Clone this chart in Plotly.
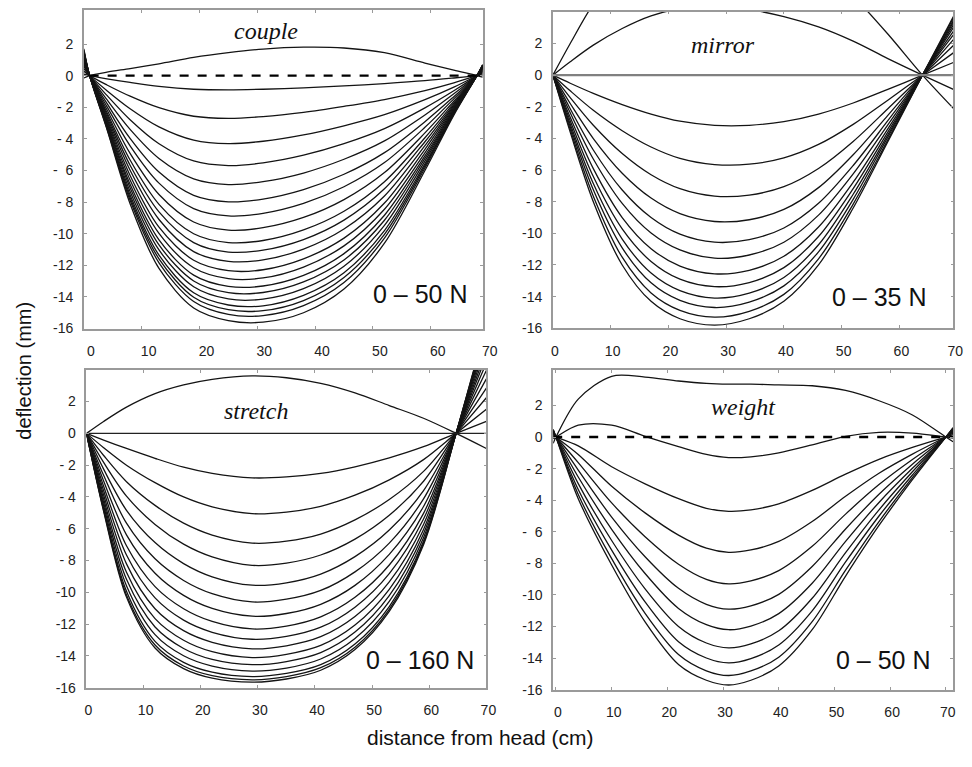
import plotly.graph_objects as go

# ---------------- couple (top-left) ----------------
COUPLE_X = [0, 1, 4, 8, 13, 19, 25, 31, 38, 45, 52, 59, 64, 68, 69]
COUPLE_UP = [-0.15, 0, 0.22, 0.45, 0.75, 1.15, 1.45, 1.68, 1.8, 1.75, 1.45, 0.8, 0.35, 0, -0.1]
COUPLE_DOWN = [
    [0.09, 0, -0.2, -0.43, -0.68, -0.86, -0.9, -0.86, -0.77, -0.65, -0.5, -0.32, -0.15, 0, 0.04],
    [0.28, 0, -0.59, -1.3, -2.03, -2.57, -2.7, -2.59, -2.32, -1.94, -1.51, -0.95, -0.46, 0, 0.12],
    [0.45, 0, -0.95, -2.09, -3.24, -4.08, -4.3, -4.15, -3.75, -3.17, -2.47, -1.52, -0.73, 0, 0.19],
    [0.6, 0, -1.25, -2.79, -4.31, -5.4, -5.69, -5.52, -5.03, -4.3, -3.35, -2.04, -0.96, 0, 0.26],
    [0.72, 0, -1.52, -3.4, -5.24, -6.53, -6.89, -6.71, -6.16, -5.29, -4.13, -2.49, -1.15, 0, 0.31],
    [0.84, 0, -1.76, -3.97, -6.1, -7.57, -7.98, -7.81, -7.21, -6.24, -4.87, -2.91, -1.33, 0, 0.36],
    [0.93, 0, -1.96, -4.44, -6.8, -8.41, -8.87, -8.71, -8.08, -7.03, -5.5, -3.27, -1.47, 0, 0.4],
    [1.03, 0, -2.16, -4.92, -7.52, -9.26, -9.77, -9.62, -8.97, -7.84, -6.13, -3.62, -1.62, 0, 0.44],
    [1.11, 0, -2.33, -5.34, -8.14, -10.0, -10.56, -10.43, -9.76, -8.58, -6.71, -3.93, -1.74, 0, 0.48],
    [1.18, 0, -2.46, -5.67, -8.62, -10.56, -11.16, -11.04, -10.37, -9.14, -7.16, -4.18, -1.83, 0, 0.5],
    [1.24, 0, -2.6, -5.99, -9.1, -11.13, -11.75, -11.66, -10.97, -9.7, -7.61, -4.43, -1.92, 0, 0.53],
    [1.3, 0, -2.73, -6.32, -9.59, -11.68, -12.34, -12.28, -11.59, -10.28, -8.06, -4.66, -2.01, 0, 0.56],
    [1.35, 0, -2.84, -6.6, -9.98, -12.15, -12.84, -12.8, -12.11, -10.77, -8.45, -4.88, -2.09, 0, 0.58],
    [1.41, 0, -2.95, -6.87, -10.39, -12.62, -13.33, -13.31, -12.64, -11.26, -8.83, -5.08, -2.17, 0, 0.6],
    [1.45, 0, -3.04, -7.09, -10.71, -12.99, -13.73, -13.72, -13.05, -11.66, -9.15, -5.24, -2.22, 0, 0.62],
    [1.49, 0, -3.12, -7.33, -11.03, -13.36, -14.13, -14.14, -13.48, -12.06, -9.47, -5.41, -2.29, 0, 0.64],
    [1.53, 0, -3.21, -7.55, -11.36, -13.74, -14.51, -14.56, -13.9, -12.47, -9.8, -5.58, -2.35, 0, 0.66],
    [1.56, 0, -3.28, -7.72, -11.59, -14.02, -14.81, -14.87, -14.23, -12.77, -10.04, -5.71, -2.38, 0, 0.67],
    [1.6, 0, -3.34, -7.89, -11.84, -14.29, -15.11, -15.18, -14.55, -13.09, -10.28, -5.84, -2.43, 0, 0.68],
    [1.7, 0, -3.4, -8.1, -12.2, -14.7, -15.5, -15.6, -15.0, -13.5, -10.6, -6.0, -2.5, 0, 0.7],
]
COUPLE_ZERO_X = [1, 69]

# ---------------- mirror (top-right) ----------------
MIRROR_X = [0, 3, 7, 12, 17, 22, 28, 34, 40, 46, 52, 58, 64, 69.35]
MIRROR_UP = [
    [0, 0.85, 1.9, 2.95, 3.75, 4.2, 4.35, 4.15, 3.7, 3.05, 2.15, 1.05, 0, -0.9],
    [0, 2.0, 4.5, 6.8, 8.2, 8.8, 9.0, 8.8, 8.2, 7.0, 5.0, 2.6, 0, -2.1],
]
MIRROR_DOWN = [
    [0, -0.51, -1.15, -1.86, -2.46, -2.91, -3.17, -3.17, -2.94, -2.46, -1.76, -0.9, 0, 0.8],
    [0, -0.99, -2.22, -3.51, -4.54, -5.26, -5.65, -5.63, -5.23, -4.38, -3.11, -1.58, 0, 1.41],
    [0, -1.42, -3.17, -4.96, -6.3, -7.18, -7.65, -7.58, -7.05, -5.9, -4.19, -2.12, 0, 1.88],
    [0, -1.79, -4.01, -6.2, -7.77, -8.75, -9.25, -9.14, -8.49, -7.11, -5.03, -2.54, 0, 2.25],
    [0, -2.12, -4.73, -7.26, -9.0, -10.05, -10.56, -10.4, -9.66, -8.1, -5.71, -2.88, 0, 2.55],
    [0, -2.38, -5.3, -8.11, -9.98, -11.05, -11.57, -11.37, -10.56, -8.85, -6.24, -3.14, 0, 2.77],
    [0, -2.66, -5.91, -9.0, -10.97, -12.07, -12.56, -12.34, -11.45, -9.6, -6.77, -3.4, 0, 3.0],
    [0, -2.88, -6.41, -9.72, -11.78, -12.9, -13.37, -13.11, -12.17, -10.2, -7.17, -3.6, 0, 3.18],
    [0, -3.09, -6.85, -10.36, -12.51, -13.62, -14.09, -13.78, -12.79, -10.72, -7.53, -3.78, 0, 3.33],
    [0, -3.26, -7.25, -10.92, -13.13, -14.24, -14.69, -14.35, -13.32, -11.17, -7.85, -3.92, 0, 3.45],
    [0, -3.44, -7.65, -11.51, -13.77, -14.87, -15.3, -14.93, -13.86, -11.61, -8.15, -4.09, 0, 3.6],
    [0, -3.6, -8.0, -12.0, -14.3, -15.4, -15.8, -15.4, -14.3, -12.0, -8.4, -4.2, 0, 3.7],
]
MIRROR_ZERO_X = [0, 69.35]

# ---------------- stretch (bottom-left) ----------------
STRETCH_X = [0, 3, 7, 12, 17, 22, 29, 35, 41, 47, 53, 59, 64.7, 70]
STRETCH_UP = [0, 0.75, 1.65, 2.5, 3.05, 3.4, 3.62, 3.5, 3.15, 2.55, 1.75, 0.95, 0, -0.95]
STRETCH_DOWN = [
    [0, -0.42, -0.95, -1.57, -2.13, -2.52, -2.8, -2.74, -2.52, -2.1, -1.54, -0.84, 0, 0.76],
    [0, -0.9, -2.0, -3.1, -4.0, -4.62, -5.05, -4.95, -4.59, -3.89, -2.92, -1.65, 0, 1.52],
    [0, -1.39, -3.04, -4.53, -5.65, -6.4, -6.9, -6.78, -6.33, -5.44, -4.16, -2.39, 0, 2.24],
    [0, -1.83, -3.95, -5.73, -6.97, -7.77, -8.3, -8.16, -7.65, -6.65, -5.15, -3.01, 0, 2.85],
    [0, -2.25, -4.84, -6.87, -8.19, -9.02, -9.55, -9.4, -8.85, -7.75, -6.08, -3.6, 0, 3.43],
    [0, -2.64, -5.65, -7.89, -9.25, -10.08, -10.6, -10.43, -9.88, -8.71, -6.9, -4.12, 0, 3.95],
    [0, -2.99, -6.38, -8.8, -10.19, -11.01, -11.5, -11.33, -10.75, -9.56, -7.61, -4.6, 0, 4.43],
    [0, -3.32, -7.07, -9.64, -11.03, -11.83, -12.3, -12.12, -11.54, -10.31, -8.28, -5.03, 0, 4.87],
    [0, -3.61, -7.65, -10.35, -11.75, -12.51, -12.95, -12.77, -12.19, -10.93, -8.82, -5.39, 0, 5.23],
    [0, -3.88, -8.21, -11.03, -12.41, -13.14, -13.55, -13.36, -12.79, -11.52, -9.34, -5.73, 0, 5.58],
    [0, -4.13, -8.74, -11.65, -13.01, -13.73, -14.1, -13.9, -13.34, -12.06, -9.81, -6.05, 0, 5.91],
    [0, -4.35, -9.18, -12.18, -13.53, -14.22, -14.55, -14.35, -13.79, -12.5, -10.21, -6.31, 0, 6.18],
    [0, -4.54, -9.58, -12.66, -13.99, -14.64, -14.95, -14.76, -14.19, -12.9, -10.57, -6.56, 0, 6.44],
    [0, -4.73, -9.93, -13.08, -14.4, -15.02, -15.3, -15.1, -14.55, -13.25, -10.89, -6.78, 0, 6.66],
    [0, -4.83, -10.16, -13.31, -14.63, -15.24, -15.5, -15.3, -14.74, -13.45, -11.07, -6.9, 0, 6.8],
    [0, -4.9, -10.3, -13.5, -14.8, -15.4, -15.65, -15.45, -14.9, -13.6, -11.2, -7.0, 0, 6.9],
]
STRETCH_ZERO_X = [0, 70]

# ---------------- weight (bottom-right) ----------------
WEIGHT_X = [-0.5, 0, 4, 10, 16, 22, 27, 31, 35, 40, 46, 52, 58, 64, 70, 71.3]
WEIGHT_UP = [
    [-0.4, 0, 2.4, 3.85, 3.8, 3.55, 3.4, 3.35, 3.35, 3.3, 3.25, 2.95, 2.3, 1.4, 0, -0.3],
    [-0.1, 0, 0.75, 0.75, 0.05, -0.6, -1.1, -1.3, -1.25, -1.0, -0.5, 0.05, 0.3, 0.25, 0, -0.05],
]
WEIGHT_DOWN = [
    [0.07, 0, -0.56, -1.88, -2.96, -3.9, -4.51, -4.7, -4.61, -4.23, -3.38, -2.35, -1.41, -0.66, 0, 0.15],
    [0.14, 0, -1.1, -3.12, -4.8, -6.21, -7.04, -7.3, -7.15, -6.61, -5.35, -3.75, -2.29, -1.08, 0, 0.24],
    [0.2, 0, -1.62, -4.17, -6.31, -8.05, -9.01, -9.3, -9.11, -8.46, -6.92, -4.88, -3.01, -1.42, 0, 0.31],
    [0.26, 0, -2.09, -5.07, -7.58, -9.58, -10.59, -10.9, -10.69, -9.96, -8.2, -5.82, -3.62, -1.72, 0, 0.38],
    [0.32, 0, -2.53, -5.84, -8.64, -10.85, -11.88, -12.2, -11.97, -11.18, -9.26, -6.61, -4.14, -1.98, 0, 0.44],
    [0.37, 0, -2.95, -6.55, -9.61, -11.99, -13.04, -13.35, -13.1, -12.27, -10.21, -7.32, -4.61, -2.2, 0, 0.48],
    [0.42, 0, -3.32, -7.16, -10.44, -12.96, -13.99, -14.3, -14.03, -13.17, -11.01, -7.91, -5.0, -2.4, 0, 0.53],
    [0.46, 0, -3.64, -7.7, -11.16, -13.77, -14.8, -15.1, -14.81, -13.94, -11.69, -8.43, -5.35, -2.57, 0, 0.57],
    [0.49, 0, -3.9, -8.1, -11.7, -14.4, -15.4, -15.7, -15.4, -14.5, -12.2, -8.8, -5.6, -2.7, 0, 0.6],
]
WEIGHT_ZERO_X = [-0.5, 71.3]

PANEL_NAMES = ["couple", "mirror", "stretch", "weight"]
FORCE_LABELS = ["0 \u2013 50 N", "0 \u2013 35 N", "0 \u2013 160 N", "0 \u2013 50 N"]
Y_TICKS = [2, 0, -2, -4, -6, -8, -10, -12, -14, -16]
Y_TICKTEXT = ["2", "0", "- 2", "- 4", "-  6", "- 8", "-10", "-12", "-14", "-16"]
X_TICKS = [0, 10, 20, 30, 40, 50, 60, 70]
X_TICKTEXT = ["0", "10", "20", "30", "40", "50", "60", "70"]

W, H = 972, 767
LINE = dict(color="#141414", width=1.3, shape="spline", smoothing=0.9)

fig = go.Figure()


def add_curves(xs, ys_list, ax):
    for ys in ys_list:
        fig.add_trace(go.Scatter(x=xs, y=ys, mode="lines", line=LINE,
                                 xaxis="x" + ax, yaxis="y" + ax,
                                 showlegend=False, hoverinfo="skip"))


def add_zero(xs, ax, dashed, color="#000", width=2.2):
    fig.add_trace(go.Scatter(x=xs, y=[0] * len(xs), mode="lines",
                             line=dict(color=color, width=width,
                                       dash="dash" if dashed else "solid"),
                             xaxis="x" + ax, yaxis="y" + ax,
                             showlegend=False, hoverinfo="skip"))


# couple
add_curves(COUPLE_X, [COUPLE_UP] + COUPLE_DOWN, "")
add_zero(COUPLE_ZERO_X, "", True, width=2.4)
# mirror
add_curves(MIRROR_X, MIRROR_UP + MIRROR_DOWN, "2")
add_zero(MIRROR_ZERO_X, "2", False, color="#808080", width=2.2)
# stretch
add_curves(STRETCH_X, [STRETCH_UP] + STRETCH_DOWN, "3")
add_zero(STRETCH_ZERO_X, "3", False, color="#222", width=1.3)
# weight
add_curves(WEIGHT_X, WEIGHT_UP + WEIGHT_DOWN, "4")
add_zero(WEIGHT_ZERO_X, "4", True, width=2.4)

# panel boxes in pixels: (left, right, top, bottom)
BOX = [(83.3, 489.3, 10, 332), (560.7, 968.3, 11.7, 331.7),
       (86, 493, 374, 695), (561, 968, 374, 697)]
XR = [[0, 69], [0, 69.35], [0, 70], [-0.5, 71.3]]
YR = [[-16, 4.16], [-16, 4.02], [-16, 3.98], [-16, 4.24]]
XSHIFT = [7, 2, 2, 2]

AXFONT = dict(family="Liberation Sans, Arial, sans-serif", size=14, color="#222")
layout_axes = {}
for i in range(4):
    l, r, t, b = BOX[i]
    sfx = "" if i == 0 else str(i + 1)
    xt = list(X_TICKS)
    if XR[i][1] < 70:
        xt[-1] = XR[i][1]
    common = dict(showline=True, linecolor="#9a9a9a", linewidth=1.6, mirror="ticks",
                  ticks="inside", ticklen=3, tickwidth=1, tickcolor="#9a9a9a",
                  showgrid=False, zeroline=False, tickfont=AXFONT, fixedrange=True)
    layout_axes["xaxis" + sfx] = dict(common, domain=[l / W, r / W], range=XR[i],
                                      anchor="y" + sfx, tickvals=xt, ticktext=X_TICKTEXT,
                                      ticklabelshift=XSHIFT[i], ticklabelstandoff=9)
    layout_axes["yaxis" + sfx] = dict(common, domain=[1 - b / H, 1 - t / H], range=YR[i],
                                      anchor="x" + sfx, tickvals=Y_TICKS, ticktext=Y_TICKTEXT,
                                      ticklabelstandoff=6)

NAME_POS = [(269, 31.7), (734, 45), (259, 415), (755, 411.7)]
FORCE_POS = [(425.5, 296.7), (893, 300), (425, 666.7), (897.5, 666.7)]
annotations = []
for i in range(4):
    annotations.append(dict(text=PANEL_NAMES[i], x=NAME_POS[i][0] / W, y=1 - NAME_POS[i][1] / H,
                            xref="paper", yref="paper", showarrow=False,
                            xanchor="center", yanchor="middle",
                            font=dict(family="Liberation Serif, Times New Roman, serif",
                                      size=24, color="#111", style="italic")))
    annotations.append(dict(text=FORCE_LABELS[i], x=FORCE_POS[i][0] / W, y=1 - FORCE_POS[i][1] / H,
                            xref="paper", yref="paper", showarrow=False,
                            xanchor="center", yanchor="middle",
                            font=dict(family="Liberation Sans, Arial, sans-serif",
                                      size=25, color="#111")))
annotations.append(dict(text="deflection (mm)", x=22 / W, y=1 - 375 / H, xref="paper", yref="paper",
                        showarrow=False, textangle=-90, xanchor="center", yanchor="middle",
                        font=dict(family="Liberation Sans, Arial, sans-serif", size=20, color="#111")))
annotations.append(dict(text="distance from head (cm)", x=486 / W, y=1 - 745 / H, xref="paper",
                        yref="paper", showarrow=False, xanchor="center", yanchor="middle",
                        font=dict(family="Liberation Sans, Arial, sans-serif", size=21, color="#111")))

fig.update_layout(width=W, height=H, margin=dict(l=0, r=0, t=0, b=0),
                  paper_bgcolor="white", plot_bgcolor="white",
                  showlegend=False, annotations=annotations, **layout_axes)

fig.write_html("out.html")
